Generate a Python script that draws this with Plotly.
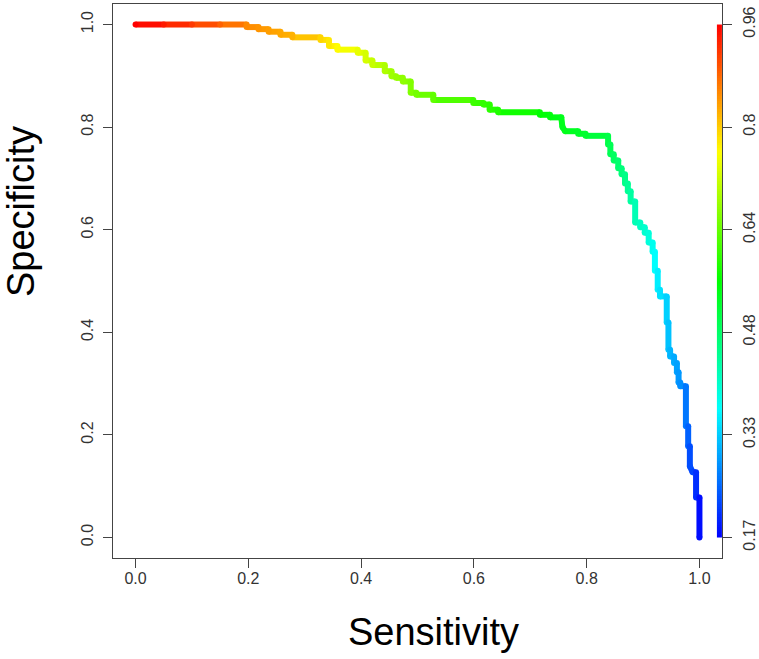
import colorsys
import numpy as np
import plotly.graph_objects as go

# ---- data (step ROC-type curve) ----
sensitivity = [
    0.000, 0.050, 0.100, 0.150, 0.197, 0.197, 0.218, 0.218, 0.236, 0.236,
    0.257, 0.257, 0.278, 0.278, 0.328, 0.328, 0.343, 0.343, 0.358, 0.358,
    0.394, 0.394, 0.408, 0.408, 0.420, 0.420, 0.442, 0.442, 0.454, 0.454,
    0.462, 0.462, 0.474, 0.474, 0.488, 0.488, 0.498, 0.498, 0.528, 0.528,
    0.599, 0.599, 0.617, 0.617, 0.628, 0.628, 0.643, 0.643, 0.717, 0.717,
    0.735, 0.735, 0.755, 0.757, 0.762, 0.785, 0.785, 0.798, 0.798, 0.838,
    0.838, 0.842, 0.842, 0.848, 0.848, 0.856, 0.856, 0.862, 0.862, 0.868,
    0.868, 0.873, 0.873, 0.878, 0.878, 0.886, 0.886, 0.895, 0.895, 0.903,
    0.903, 0.910, 0.910, 0.917, 0.917, 0.921, 0.921, 0.926, 0.926, 0.930,
    0.930, 0.942, 0.942, 0.945, 0.945, 0.948, 0.948, 0.955, 0.955, 0.960,
    0.960, 0.963, 0.963, 0.966, 0.966, 0.976, 0.976, 0.980, 0.980, 0.983,
    0.983, 0.988, 0.994, 0.994, 1.000, 1.000,
]
specificity = [
    1.000, 1.000, 1.000, 1.000, 1.000, 0.995, 0.995, 0.991, 0.991, 0.986,
    0.986, 0.980, 0.980, 0.975, 0.975, 0.970, 0.970, 0.958, 0.958, 0.951,
    0.951, 0.945, 0.945, 0.930, 0.930, 0.921, 0.921, 0.909, 0.909, 0.899,
    0.899, 0.896, 0.896, 0.889, 0.889, 0.867, 0.867, 0.863, 0.863, 0.853,
    0.853, 0.847, 0.847, 0.844, 0.844, 0.834, 0.834, 0.829, 0.829, 0.824,
    0.824, 0.819, 0.819, 0.800, 0.792, 0.792, 0.787, 0.787, 0.783, 0.783,
    0.766, 0.766, 0.747, 0.747, 0.735, 0.735, 0.720, 0.720, 0.708, 0.708,
    0.690, 0.690, 0.675, 0.675, 0.655, 0.655, 0.614, 0.614, 0.605, 0.605,
    0.594, 0.594, 0.575, 0.575, 0.557, 0.557, 0.520, 0.520, 0.483, 0.483,
    0.470, 0.470, 0.419, 0.419, 0.366, 0.366, 0.353, 0.353, 0.340, 0.340,
    0.322, 0.322, 0.302, 0.302, 0.295, 0.295, 0.217, 0.217, 0.178, 0.178,
    0.139, 0.127, 0.127, 0.078, 0.078, 0.000,
]
cutoff = [
    0.960, 0.940, 0.915, 0.885, 0.855, 0.855, 0.845, 0.845, 0.838, 0.838,
    0.830, 0.830, 0.822, 0.822, 0.795, 0.795, 0.780, 0.780, 0.765, 0.765,
    0.745, 0.745, 0.730, 0.730, 0.718, 0.718, 0.700, 0.700, 0.688, 0.688,
    0.682, 0.682, 0.675, 0.675, 0.665, 0.665, 0.655, 0.655, 0.640, 0.640,
    0.612, 0.612, 0.604, 0.604, 0.598, 0.598, 0.590, 0.590, 0.565, 0.565,
    0.555, 0.555, 0.545, 0.545, 0.545, 0.535, 0.535, 0.528, 0.528, 0.510,
    0.510, 0.500, 0.500, 0.490, 0.490, 0.480, 0.480, 0.470, 0.470, 0.460,
    0.460, 0.450, 0.450, 0.440, 0.440, 0.425, 0.425, 0.415, 0.415, 0.405,
    0.405, 0.395, 0.395, 0.380, 0.380, 0.368, 0.368, 0.355, 0.355, 0.345,
    0.345, 0.332, 0.332, 0.320, 0.320, 0.310, 0.310, 0.302, 0.302, 0.295,
    0.295, 0.288, 0.288, 0.280, 0.280, 0.262, 0.262, 0.245, 0.245, 0.230,
    0.230, 0.222, 0.205, 0.205, 0.180, 0.180,
]

axis_ticks = [0.0, 0.2, 0.4, 0.6, 0.8, 1.0]
axis_ticktext = ["0.0", "0.2", "0.4", "0.6", "0.8", "1.0"]
cut_min, cut_max = 0.17, 0.96
colorkey_ticktext = ["0.17", "0.33", "0.48", "0.64", "0.8", "0.96"]

FONT = "Liberation Sans, Arial, sans-serif"


def rainbow(c):
    t = min(max((c - cut_min) / (cut_max - cut_min), 0.0), 1.0)
    h = (1.0 - t) * 4.0 / 6.0
    r, g, b = colorsys.hsv_to_rgb(h, 1.0, 1.0)
    return f"rgb({round(r*255)},{round(g*255)},{round(b*255)})"


rainbow_scale = [[0.0, "rgb(0,0,255)"], [0.25, "rgb(0,255,255)"],
                 [0.5, "rgb(0,255,0)"], [0.75, "rgb(255,255,0)"],
                 [1.0, "rgb(255,0,0)"]]

fig = go.Figure()

LW = 6
for i in range(len(sensitivity) - 1):
    c = 0.5 * (cutoff[i] + cutoff[i + 1])
    fig.add_trace(go.Scatter(
        x=[sensitivity[i], sensitivity[i + 1]],
        y=[specificity[i], specificity[i + 1]],
        mode="lines", line=dict(color=rainbow(c), width=LW),
        showlegend=False, hoverinfo="skip"))

fig.add_trace(go.Scatter(
    x=sensitivity, y=specificity, mode="markers",
    marker=dict(size=LW, color=[rainbow(c) for c in cutoff], line=dict(width=0)),
    showlegend=False, hoverinfo="skip"))

# colour key (drawn inside the plot, right edge)
edges = np.linspace(cut_min, cut_max, 201)
mids = [[0.5 * (a + b)] for a, b in zip(edges[:-1], edges[1:])]
fig.add_trace(go.Heatmap(
    x=[1.031, 1.040], y=edges, z=mids, colorscale=rainbow_scale,
    zmin=cut_min, zmax=cut_max, showscale=False, hoverinfo="skip",
    xaxis="x", yaxis="y2"))

pad = 0.04 * (cut_max - cut_min)
tickfont = dict(family=FONT, size=16, color="#333333")
common = dict(showgrid=False, zeroline=False, ticks="outside", ticklen=9,
              tickwidth=1, tickcolor="#444444", tickfont=tickfont,
              automargin=False)

fig.update_layout(
    width=759, height=659,
    margin=dict(l=113, r=37, t=4, b=101, autoexpand=False),
    paper_bgcolor="white", plot_bgcolor="white",
    xaxis=dict(range=[-0.04, 1.04], tickvals=axis_ticks, ticktext=axis_ticktext,
               showline=True, linecolor="#444444", linewidth=1.3, mirror=True,
               ticklabelstandoff=-3, **common),
    yaxis=dict(range=[-0.04, 1.04], tickvals=axis_ticks, ticktext=axis_ticktext,
               tickangle=-90, showline=True, linecolor="#444444", linewidth=1.3,
               mirror=True, ticklabelstandoff=3, **common),
    yaxis2=dict(overlaying="y", side="right",
                range=[cut_min - pad, cut_max + pad],
                tickvals=list(np.linspace(cut_min, cut_max, 6)),
                ticktext=colorkey_ticktext, tickangle=-90, showline=False,
                ticklabelstandoff=4, **common),
    annotations=[
        dict(text="Sensitivity", x=(433 - 113) / 609, y=-(632 - 558) / 554,
             xref="paper", yref="paper", showarrow=False,
             xanchor="center", yanchor="middle",
             font=dict(family=FONT, size=38, color="black")),
        dict(text="Specificity", x=(21 - 113) / 609, y=(558 - 212) / 554,
             xref="paper", yref="paper", showarrow=False, textangle=-90,
             xanchor="center", yanchor="middle",
             font=dict(family=FONT, size=38, color="black")),
    ],
)

fig.write_html("out.html",
               config={"responsive": False, "displayModeBar": False},
               post_script="document.body.style.margin='0';")
